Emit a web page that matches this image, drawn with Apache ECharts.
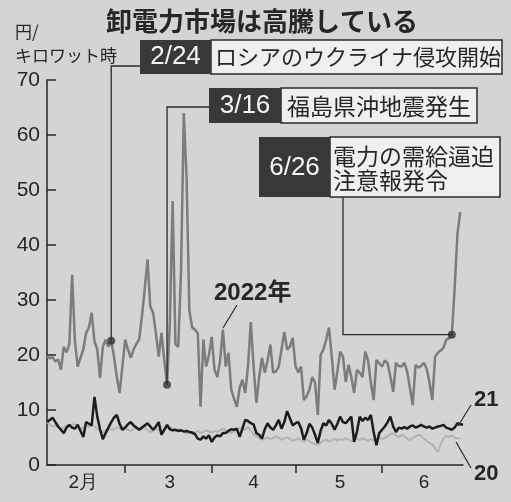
<!DOCTYPE html>
<html><head><meta charset="utf-8">
<script src="https://cdn.jsdelivr.net/npm/echarts@6/dist/echarts.min.js"></script>
<style>html,body{margin:0;padding:0;background:#d4d4d4}#c{width:511px;height:502px}</style>
</head><body><div id="c"></div>
<script>
// ---- data ----
const monthDays = [28, 31, 30, 31, 30];          // Feb..Jun
const monthNums = [2, 3, 4, 5, 6];
const monthLabels = ['2月', '3', '4', '5', '6'];
const monthLabelDay = [14, 17, 16, 17, 16];      // day of month where the label sits
const yTicks = [0, 10, 20, 30, 40, 50, 60, 70];

const s2022 = [19.8,19.4,19.6,18.8,19.2,17.3,21.5,20.5,22,34.6,
22.5,17.9,19.5,21,24,25,27.7,22.5,21,15.8,
21.5,22.8,21.5,22.6,19.7,16,13.1,17.9,22.8,21,
19.5,21,22,22.8,27,32,37.4,28.8,27.7,24,
19.7,24,19.1,14.6,26,48,22,21.5,35,64,
52,28,25,24.6,24,10.6,22.8,17.9,20,23.3,
17.3,16,19,24.6,17.9,20.4,13.7,12,10.6,14,
15.5,13.1,18,26,17.9,11.3,16,19.5,16.8,19,
21.9,16.8,17,17.9,21,24.2,21,21.5,23.1,18,
16.8,17.9,11.8,12.5,13.7,16,15,9.1,20,21,
22.8,25,19.7,13.7,17,20.6,19.7,15.1,18.2,16,
13.1,17.3,16.8,16,20.6,19,14.9,11.8,19.1,18.5,
17.9,19,18.5,16,13.3,18.6,18,17.9,18.6,17,
14,10.9,18.2,17.7,18,18.6,17.5,15,11.8,19.7,
20.4,20.8,21.3,22.8,23,23.7,32,42,46];

const s2021 = [7.8,8.2,8.6,7.8,7,6.4,5.8,6.8,7.3,6.8,
6.6,7.3,6.2,5.1,7.8,7.5,7.2,12.4,8.8,6.5,
4.7,5.8,6.8,7.8,8.6,9.1,7.5,6.4,6.8,7.4,
7.8,7.2,6.8,6.4,6.8,7.2,7.6,7,6.4,7,
7.8,5.5,6.4,7.3,6.5,6.3,6.4,6.2,6.3,6.1,
6.2,6,5.9,5.6,4.8,4.6,5.2,4.8,5.4,4.2,
5,5.4,5.2,5.8,5.8,6.2,6.5,6.4,6.6,5.1,
6.6,8.2,8,7.6,7.4,5.8,5.5,4.8,6.5,7.6,
6.8,6.4,7.2,8.2,6.6,7.8,9.8,8.5,7.2,7.6,
7.8,6.7,4.6,5.8,7.5,6.8,5.5,4,6.2,7.6,
7.2,8.2,7.5,6.4,7.5,8.8,7.8,7.6,8.2,8.8,
4.2,6,8.8,8,8.6,8.2,9.1,6,3.6,5.8,
6.4,7,7.8,8.8,7,6,6.8,6.6,6.9,6.6,
7,7.2,6.8,7,7.3,7,6.8,7,6.6,6.8,
7,7.1,7.3,6.8,6.6,6.4,6.8,7.6,7.4,7.3];

const s2020 = [7.8,7.4,7.0,7.2,6.8,6.5,6.9,7.2,7.0,7.4,
7.3,7.0,6.6,6.8,7.1,6.9,7.3,7.0,6.6,6.2,
6.0,6.3,6.6,6.4,6.5,6.8,6.7,6.3,6.6,6.4,
6.2,6.5,6.8,6.4,6.6,6.9,6.3,6.0,6.2,6.6,
6.4,6.1,6.5,6.7,6.9,6.6,6.3,6.5,6.2,6.0,
5.8,6.0,5.7,5.9,6.2,5.8,6.0,6.3,6.1,5.9,
6.2,6.0,6.3,6.6,6.4,6.1,5.8,6.2,6.5,6.8,
6.6,6.4,6.9,6.2,5.6,5.2,4.9,4.6,4.8,5.0,
4.7,4.9,5.2,5.0,4.6,4.8,5.1,4.7,4.4,4.6,
4.9,4.5,4.2,4.6,4.3,4.0,3.8,3.6,4.0,4.4,
4.6,4.2,4.5,4.8,4.4,4.7,4.5,4.9,4.6,4.3,
4.6,4.8,4.5,4.9,4.6,4.4,4.7,4.5,4.8,5.0,
4.7,4.9,5.3,5.6,5.8,5.4,5.0,5.5,5.2,4.8,
4.5,4.9,5.2,5.5,5.3,4.8,4.4,4.0,3.8,3.0,
2.4,3.8,4.8,5.3,5.1,5.4,5.0,4.8,4.9];

const eventDates = ['2/24', '3/16', '6/26'];
const eventTexts = [['ロシアのウクライナ侵攻開始'], ['福島県沖地震発生'], ['電力の需給逼迫', '注意報発令']];
const seriesNames = ['2022年', '21', '20'];
const titleText = '卸電力市場は高騰している';
const unitText = ['円/', 'キロワット時'];

// ---- build categories ----
const cats = [];
const tickIdx = new Set();
const labelMap = new Map();
let off = 0;
monthDays.forEach((n, m) => {
  if (m > 0) tickIdx.add(off);
  labelMap.set(off + monthLabelDay[m] - 1, monthLabels[m]);
  for (let d = 1; d <= n; d++) cats.push(monthNums[m] + '/' + d);
  off += n;
});
const eventIdx = eventDates.map(d => cats.indexOf(d));

const INK = '#262626';
const NUM = "'Liberation Sans', Arial, sans-serif";
const JP = "'Noto Sans CJK JP', sans-serif";

const chart = echarts.init(document.getElementById('c'), null, {renderer: 'canvas'});
chart.setOption({
  animation: false,
  backgroundColor: '#d4d4d4',
  grid: {left: 47, right: 48, top: 80, bottom: 37},
  xAxis: {
    type: 'category', data: cats, boundaryGap: false,
    axisLine: {lineStyle: {color: INK, width: 1.5}},
    axisTick: {interval: (i) => tickIdx.has(i), length: 8, lineStyle: {color: INK, width: 1.5}},
    axisLabel: {interval: (i) => labelMap.has(i), formatter: (v, i) => labelMap.get(i) || '',
      fontSize: 19, color: INK, margin: 8, fontFamily: NUM},
    splitLine: {show: false}
  },
  yAxis: {
    type: 'value', min: yTicks[0], max: yTicks[yTicks.length - 1], interval: 10,
    axisLine: {show: true, lineStyle: {color: INK, width: 1.5}},
    axisTick: {show: true, inside: true, length: 9, lineStyle: {color: INK, width: 1.5}},
    axisLabel: {fontSize: 21, color: INK, margin: 7, fontFamily: NUM},
    splitLine: {show: false}
  },
  series: [
    {name: seriesNames[2], type: 'line', data: s2020, symbol: 'none', z: 1,
      lineStyle: {color: '#b3b3b3', width: 2}},
    {name: seriesNames[1], type: 'line', data: s2021, symbol: 'none', z: 2,
      lineStyle: {color: '#1c1c1c', width: 2.5}},
    {name: seriesNames[0], type: 'line', data: s2022, symbol: 'none', z: 3,
      lineStyle: {color: '#7c7c7c', width: 2.5}},
    {type: 'scatter', data: eventIdx.map(i => [i, s2022[i]]), symbolSize: 8, z: 10,
      itemStyle: {color: '#333'}}
  ]
});

const P = eventIdx.map(i => chart.convertToPixel({xAxisIndex: 0, yAxisIndex: 0}, [i, s2022[i]]));
const lineStyle = {stroke: '#2a2a2a', lineWidth: 1.3, fill: null};
function txt(t, x, y, size, opts) {
  opts = opts || {};
  return {type: 'text', z: 20, style: Object.assign({text: t, x: x, y: y, fill: opts.fill || INK,
    fontSize: size, fontFamily: opts.family || JP, fontWeight: opts.weight || 'normal',
    align: opts.align || 'left', verticalAlign: 'middle',
    textAlign: opts.align || 'left', textVerticalAlign: 'middle'})};
}
function rect(x, y, w, h, dark) {
  return {type: 'rect', z: 15, shape: {x: x, y: y, width: w, height: h},
    style: dark ? {fill: '#383838'} : {fill: '#efefef', stroke: '#2a2a2a', lineWidth: 1.5}};
}
const g = [];
// title & unit
g.push(txt(titleText, 262, 21, 26, {align: 'center', weight: 'bold'}));
g.push(txt(unitText[0], 15, 32, 17));
g.push(txt(unitText[1], 15, 56, 17));
// connectors
g.push({type: 'polyline', z: 12, shape: {points: [[140, 66], [P[0][0], 66], [P[0][0], P[0][1]]]}, style: lineStyle});
g.push({type: 'polyline', z: 12, shape: {points: [[209, 107], [P[1][0], 107], [P[1][0], P[1][1]]]}, style: lineStyle});
g.push({type: 'polyline', z: 12, shape: {points: [[343, 197], [343, P[2][1]], [P[2][0], P[2][1]]]}, style: lineStyle});
// box 1
g.push(rect(211, 40, 291, 34, false));
g.push(rect(140, 40, 71, 34, true));
g.push(txt(eventDates[0], 175.5, 57, 26, {align: 'center', fill: '#f4f4f4', family: NUM}));
g.push(txt(eventTexts[0][0], 215, 57, 22));
// box 2
g.push(rect(281, 88, 196, 35, false));
g.push(rect(209, 88, 72, 35, true));
g.push(txt(eventDates[1], 245, 106, 26, {align: 'center', fill: '#f4f4f4', family: NUM}));
g.push(txt(eventTexts[1][0], 287, 106, 23));
// box 3
g.push(rect(330, 137, 170, 60, false));
g.push(rect(259, 137, 71, 60, true));
g.push(txt(eventDates[2], 294.5, 168, 26, {align: 'center', fill: '#f4f4f4', family: NUM}));
g.push(txt(eventTexts[2][0], 333, 156, 23));
g.push(txt(eventTexts[2][1], 333, 180, 23));
// series labels
g.push(txt(seriesNames[0], 214, 293, 24, {family: NUM + ",'Noto Sans CJK JP'", weight: 'bold'}));
g.push({type: 'line', z: 12, shape: {x1: 237, y1: 305, x2: 223, y2: 328}, style: {stroke: '#2a2a2a', lineWidth: 1.2}});
g.push(txt(seriesNames[1], 474, 400, 22, {family: NUM, weight: 'bold'}));
g.push({type: 'line', z: 12, shape: {x1: 471, y1: 405, x2: 458, y2: 426}, style: {stroke: '#2a2a2a', lineWidth: 1.2}});
g.push(txt(seriesNames[2], 474, 474, 22, {family: NUM, weight: 'bold'}));
g.push({type: 'line', z: 12, shape: {x1: 471, y1: 468, x2: 456, y2: 442}, style: {stroke: '#2a2a2a', lineWidth: 1.2}});
chart.setOption({graphic: {elements: g}});
</script></body></html>
